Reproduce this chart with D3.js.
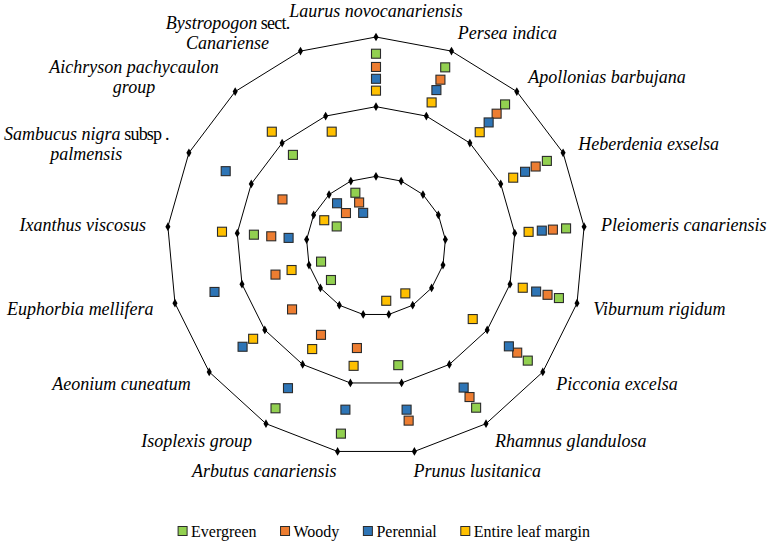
<!DOCTYPE html>
<html>
<head>
<meta charset="utf-8">
<script src="https://cdn.jsdelivr.net/npm/d3@7"></script>
<style>
  body { margin: 0; background: #fff; }
  svg { display: block; font-family: "Liberation Serif", "Times New Roman", serif; }
</style>
</head>
<body>
<div id="chart"></div>
<script>
// species round the radar, clockwise from the top ("\n" = line break)
var categories = [
    "Laurus novocanariensis", "Persea indica", "Apollonias barbujana", "Heberdenia exselsa",
    "Pleiomeris canariensis", "Viburnum rigidum", "Picconia excelsa", "Rhamnus glandulosa",
    "Prunus lusitanica", "Arbutus canariensis", "Isoplexis group", "Aeonium cuneatum",
    "Euphorbia mellifera", "Ixanthus viscosus", "Sambucus nigra subsp .\npalmensis",
    "Aichryson pachycaulon\ngroup", "Bystropogon sect.\nCanariense"
];
// words printed upright inside the italic names
var uprightWords = ["subsp", ".", "sect."];

// the three rings (series drawn as lines with diamond markers)
var ringLevels = [1, 2, 3];

var evergreen = [2.76, 2.75, 2.75, 2.74, 2.74, 2.73, 2.73, 2.73, 1.74, 2.74, 2.74, 0.81, 0.82, 1.76, 0.63, 1.77, 0.82];
var woody     = [2.57, 2.56, 2.57, 2.56, 2.55, 2.56, 2.54, 2.55, 2.55, 1.49, 1.50, 1.51, 1.50, 1.51, 1.50, 0.64, 0.67];
var perennial = [2.40, 2.40, 2.40, 2.39, 2.39, 2.39, 2.39, 2.39, 2.39, 2.39, 2.40, 2.40, 2.41, 1.26, 2.41, 0.83, 0.51];
var entireLeafMargin = [2.23, 2.21, 2.21, 2.20, 2.20, 2.19, 1.74, 0.80, 0.80, 1.75, 1.74, 2.21, 1.26, 2.22, 0.83, 2.22, 1.76];

var seriesNames = ["Evergreen", "Woody", "Perennial", "Entire leaf margin"];
var seriesColors = ["#92D050", "#ED7D31", "#2E75B6", "#FFC000"];
var seriesValues = [evergreen, woody, perennial, entireLeafMargin];

var width = 771, height = 546;
var cx = 376, cy = 246, radius = 209;

var svg = d3.select("#chart")
    .append("svg")
    .attr("width", width)
    .attr("height", height)

var r = d3.scaleLinear().domain([0, 3]).range([0, radius]);
var angle = d3.scaleLinear().domain([0, categories.length]).range([0, 2 * Math.PI]);

var g = svg.append("g").attr("transform", "translate(" + cx + "," + cy + ")");

// rings
var ringLine = d3.lineRadial()
    .angle(function (d, i) { return angle(i) })
    .radius(function (d) { return r(d) })
    .curve(d3.curveLinearClosed);

ringLevels.forEach(function (lvl) {
    var vals = categories.map(function () { return lvl });
    g.append("path")
        .attr("d", ringLine(vals))
        .attr("fill", "none")
        .attr("stroke", "#000")
        .attr("stroke-width", 1);
    g.selectAll(null)
        .data(vals)
        .enter()
        .append("path")
        .attr("d", d3.symbol(d3.symbolDiamond, 22))
        .attr("transform", function (d, i) {
            var p = d3.pointRadial(angle(i), r(d));
            return "translate(" + p[0] + "," + p[1] + ")";
        })
        .attr("fill", "#000");
});

// square markers for the four traits
var sq = 9;
seriesValues.forEach(function (vals, s) {
    g.selectAll(null)
        .data(vals)
        .enter()
        .append("rect")
        .attr("x", function (d, i) { return d3.pointRadial(angle(i), r(d))[0] - sq / 2 })
        .attr("y", function (d, i) { return d3.pointRadial(angle(i), r(d))[1] - sq / 2 })
        .attr("width", sq)
        .attr("height", sq)
        .attr("fill", seriesColors[s])
        .attr("stroke", "#2b2b2b")
        .attr("stroke-width", 1.1);
});

// category labels
var lineH = 20;
categories.forEach(function (name, i) {
    var a = angle(i);
    var sin = Math.sin(a), cos = Math.cos(a);
    var p = d3.pointRadial(a, radius + 17);
    // left side labels sit a bit further out
    if (sin < -0.05) p[0] -= 5;
    var lines = name.split("\n");
    var lab = svg.append("g").attr("font-size", "18px");
    var texts = lines.map(function (ln, k) {
        var t = lab.append("text").attr("dy", "0.35em");
        ln.split(" ").forEach(function (w, j) {
            t.append("tspan")
                .attr("font-style", uprightWords.indexOf(w) >= 0 ? "normal" : "italic")
                .attr("letter-spacing", uprightWords.indexOf(w) >= 0 ? "-0.8px" : null)
                .text((j > 0 ? " " : "") + w);
        });
        return t;
    });
    var w = d3.max(texts, function (t) { return t.node().getComputedTextLength() });
    var yMid = cy + p[1] - cos * 3;
    var xMid;
    if (Math.abs(sin) < 0.05) {
        xMid = cx + p[0];
        yMid = cy + p[1] - cos * 9;
    } else if (sin > 0) {
        xMid = cx + p[0] + w / 2;
    } else {
        xMid = cx + p[0] - w / 2;
    }
    // the two bottom labels are pulled toward the middle
    if (Math.abs(sin) < 0.3 && cos < 0) xMid += sin > 0 ? -4 : 7;
    texts.forEach(function (t, k) {
        t.attr("x", xMid)
            .attr("y", yMid + (k - (lines.length - 1) / 2) * lineH)
            .attr("text-anchor", "middle");
    });
});

// legend
var legend = svg.append("g").attr("font-size", "16px");
var items = seriesNames.map(function (n, s) {
    var it = legend.append("g");
    it.append("rect")
        .attr("width", 9).attr("height", 9)
        .attr("y", -4.5)
        .attr("fill", seriesColors[s])
        .attr("stroke", "#2b2b2b")
        .attr("stroke-width", 1);
    var t = it.append("text").attr("x", 13).attr("dy", "0.35em").text(n);
    return { g: it, w: 13 + t.node().getComputedTextLength() };
});
var gap = 24;
var total = d3.sum(items, function (d) { return d.w }) + gap * (items.length - 1);
var lx = 384 - total / 2;
items.forEach(function (d) {
    d.g.attr("transform", "translate(" + lx + ",531)");
    lx += d.w + gap;
});
</script>
</body>
</html>
